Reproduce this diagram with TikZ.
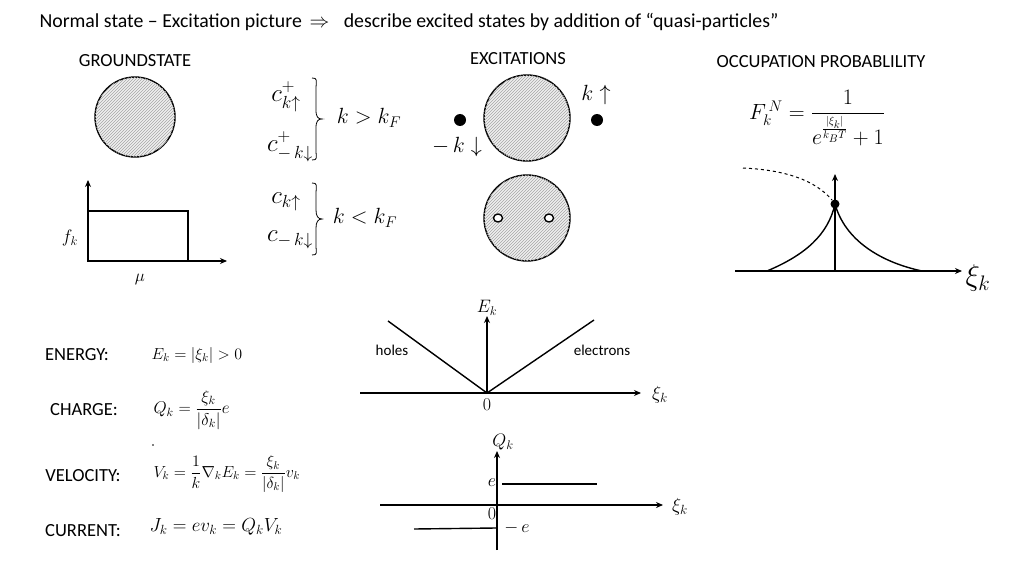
\RequirePackage{fix-cm}
\documentclass[tikz,border=0pt]{standalone}
\usepackage{amsmath}
\usepackage{fontspec}
\setmainfont{Carlito}
\usetikzlibrary{patterns,arrows.meta}
\begin{document}
\begin{tikzpicture}[x=1pt,y=-1pt,
  lbl/.style={font=\fontsize{18.5}{20}\selectfont},
  mth/.style={font=\fontsize{22}{24}\selectfont},
  ln/.style={line width=1.4pt},
  ax/.style={line width=1.4pt,-{Stealth[length=7pt,width=6pt]}},
  ball/.style={ln,fill=gray!12,postaction={pattern=north east lines,pattern color=gray!70}}]
\useasboundingbox (0,0) rectangle (1024,575);
\node[anchor=west,font=\fontsize{19.8}{22}\selectfont] (title) at (36,22) {Normal state -- Excitation picture \,$\Rightarrow$\,\,\, describe excited states by addition of “quasi-particles”};
\node[lbl] (gs) at (135,61) {GROUNDSTATE};
\node[lbl] (ex) at (518,59) {EXCITATIONS};
\node[lbl] (op) at (821,62) {OCCUPATION PROBABLILITY};
% groundstate
\draw[ball] (135,117) circle (40);
\coordinate (o1) at (88,261); \coordinate (yt) at (88,180); \coordinate (xr) at (227,261);
\draw[ax] (o1) -- (yt);
\draw[ax] (o1) -- (xr);
\draw[ln] (88,211) rectangle (188,261);
\node[font=\fontsize{18}{20}\selectfont] (fk) at (70,238) {$f_k$};
\node[font=\fontsize{17}{18}\selectfont] (mu) at (140,279) {$\mu$};
% operators
\node[font=\fontsize{25}{26}\selectfont,inner sep=0pt] (c1) at (286,97) {$c^{+}_{k\uparrow}$};
\node[font=\fontsize{25}{26}\selectfont,inner sep=0pt] (c2) at (290,147) {$c^{+}_{-\,k\downarrow}$};
\draw[line width=0.8pt] (312,78) .. controls (318,78) and (316,80) .. (316,90) -- (316,110) .. controls (316,117) and (318,119) .. (322,119) .. controls (318,119) and (316,121) .. (316,128) -- (316,150) .. controls (316,158) and (318,160) .. (312,160);
\node[font=\fontsize{22}{24}\selectfont] (kg) at (369,118) {$k > k_F$};
\node[font=\fontsize{25}{26}\selectfont] (c3) at (286,202) {$c_{k\uparrow}$};
\node[font=\fontsize{25}{26}\selectfont] (c4) at (290,240) {$c_{-\,k\downarrow}$};
\draw[line width=0.8pt] (312,183) .. controls (318,183) and (316,185) .. (316,195) -- (316,210) .. controls (316,216) and (318,219) .. (322,219) .. controls (318,219) and (316,222) .. (316,228) -- (316,245) .. controls (316,253) and (318,255) .. (312,255);
\node[font=\fontsize{22}{24}\selectfont] (kl) at (365,218) {$k < k_F$};
% excitations
\draw[ball] (527,118) circle (43);
\fill (460,120) circle (6); \fill (597,120) circle (6);
\node[mth] (ku) at (596,95) {$k\uparrow$};
\node[mth] (kd) at (457,147) {$-\,k\downarrow$};
\draw[ball] (527,218) circle (43);
\draw[line width=1.4pt,fill=white] (498,218) ellipse (4.5 and 4);
\draw[line width=1.4pt,fill=white] (549,218) ellipse (4.5 and 4);
% occupation
\node[mth] (F) at (817,118) {$F^{\,N}_k=\dfrac{1}{e^{\frac{|\xi_k|}{k_BT}}+1}$};
\coordinate (o3) at (835,271);
\draw[ax] (735,271) -- (962,271);
\draw[ax] (o3) -- (835,174);
\draw[ln] (767,271) .. controls (805,255) and (828,235) .. (835,204) .. controls (845,240) and (880,262) .. (922,271);
\draw[line width=1pt,dashed] (743,168) .. controls (785,170) and (815,180) .. (832,200);
\fill (835,204) circle (4.5);
\node[font=\fontsize{30}{32}\selectfont] (xi3) at (978,278) {$\xi_k$};
% energy graph
\coordinate (o4) at (487,393);
\draw[ax] (360,393) -- (641,393);
\draw[ax] (o4) -- (487,316);
\draw[ln] (388,321) -- (o4) -- (594,320);
\node[font=\fontsize{18}{18}\selectfont] (Ek) at (487,308) {$E_k$};
\node[font=\fontsize{15}{15}\selectfont] (holes) at (392,350) {holes};
\node[font=\fontsize{15}{15}\selectfont] (el) at (602,350) {electrons};
\node[font=\fontsize{18}{18}\selectfont] (z1) at (487,405) {$0$};
\node[font=\fontsize{19}{20}\selectfont] (xi4) at (660,395) {$\xi_k$};
% charge graph
\draw[ax] (380,505) -- (663,505);
\draw[ax] (497,550) -- (497,451);
\draw[ln] (502,484) -- (597,484);
\draw[ln] (414,529) -- (496,528);
\node[font=\fontsize{18}{18}\selectfont] (Qk) at (503,442) {$Q_k$};
\node[font=\fontsize{18}{18}\selectfont] (e1) at (492,483) {$e$};
\node[font=\fontsize{18}{18}\selectfont] (z2) at (492,514) {$0$};
\node[font=\fontsize{18}{18}\selectfont] (e2) at (517,528) {$-\,e$};
\node[font=\fontsize{19}{20}\selectfont] (xi5) at (680,507) {$\xi_k$};
% left column
\node[lbl] (en) at (77,355) {ENERGY:};
\node[font=\fontsize{16}{18}\selectfont,anchor=west] (Ef) at (148,355) {$E_k=|\xi_k|>0$};
\node[lbl] (ch) at (84,410) {CHARGE:};
\node[font=\fontsize{17}{18}\selectfont,anchor=west] (Qf) at (150,410) {$Q_k=\dfrac{\xi_k}{|\delta_k|}e$};
\fill (153,445) circle (0.8);
\node[lbl] (ve) at (83,476) {VELOCITY:};
\node[font=\fontsize{16}{19}\selectfont,anchor=west] (Vf) at (150,474) {$V_k=\dfrac{1}{k}\nabla_kE_k=\dfrac{\xi_k}{|\delta_k|}v_k$};
\node[lbl] (cu) at (83,531) {CURRENT:};
\node[font=\fontsize{19}{20}\selectfont,anchor=west] (Jf) at (146,527) {$J_k=ev_k=Q_kV_k$};
\end{tikzpicture}
\end{document}
